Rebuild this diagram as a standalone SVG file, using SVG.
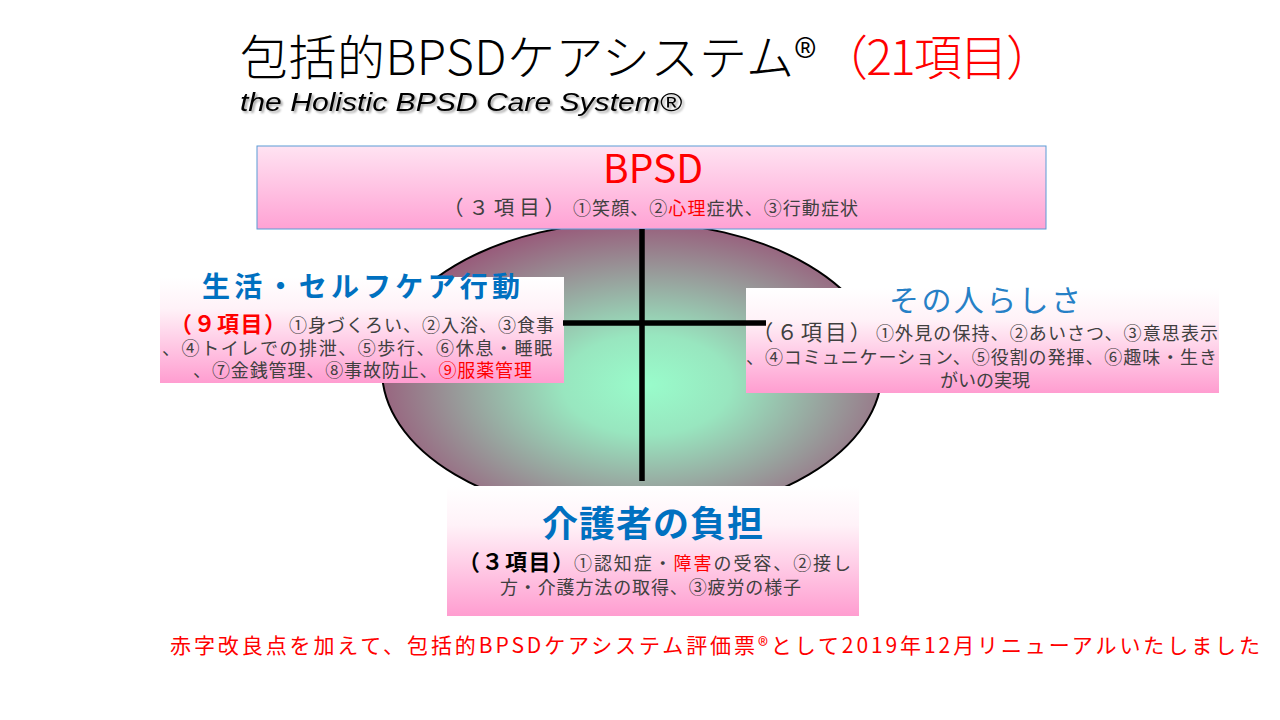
<svg xmlns="http://www.w3.org/2000/svg" width="1280" height="720" viewBox="0 0 1280 720">
<defs>
<style>
text{font-family:"Noto Sans CJK JP","Noto Sans",sans-serif;}
.body{font-size:18px;fill:#404040;}
.red{fill:#ff0000;}
.blueB{fill:#0070c0;font-weight:700;}
.line{stroke:#000;stroke-width:5.5;fill:none;}
</style>
<linearGradient id="gBpsd" x1="0" y1="0" x2="0" y2="1">
<stop offset="0" stop-color="#ffe3f2"/>
<stop offset="1" stop-color="#ffa2d4"/>
</linearGradient>
<linearGradient id="gBox" x1="0" y1="0" x2="0" y2="1">
<stop offset="0" stop-color="#ffffff"/>
<stop offset="0.3" stop-color="#fff2f8"/>
<stop offset="1" stop-color="#ff9dd0"/>
</linearGradient>
<radialGradient id="gEll" cx="0.53" cy="0.55" r="0.56">
<stop offset="0" stop-color="#99fccb"/>
<stop offset="0.3" stop-color="#98e6bf"/>
<stop offset="1" stop-color="#985a7a"/>
</radialGradient>
<filter id="shadow" x="-5%" y="-20%" width="110%" height="150%">
<feDropShadow dx="2" dy="2" stdDeviation="1" flood-color="#000" flood-opacity="0.35"/>
</filter>
</defs>
<rect width="1280" height="720" fill="#fff"/>

<g id="title">
<text x="240" y="75" font-size="48" font-weight="300" fill="#000" textLength="576">包括的BPSDケアシステム®</text>
<text x="820" y="75" font-size="48" font-weight="300" class="red" textLength="234">（21項目）</text>
<text x="240" y="111" font-size="25" fill="#000" style="font-family:'Liberation Sans',sans-serif;font-style:italic" textLength="442" lengthAdjust="spacingAndGlyphs" filter="url(#shadow)">the Holistic BPSD Care System®</text>
</g>

<g id="center-ellipse">
<ellipse cx="632" cy="370" rx="250" ry="148" fill="url(#gEll)" stroke="#000" stroke-width="2"/>
</g>

<g id="node-bpsd">
<rect x="257" y="146" width="789" height="83" fill="url(#gBpsd)" stroke="#5b9bd5" stroke-width="1"/>
<text x="653" y="183" font-size="39" class="red" text-anchor="middle">BPSD</text>
<text x="443" y="215" font-size="20.5" fill="#404040" textLength="122">（３項目）</text>
<text x="573" y="215" class="body" textLength="285">①笑顔、②<tspan class="red">心理</tspan>症状、③行動症状</text>
</g>

<g id="node-life">
<rect x="160" y="277" width="404" height="106" fill="url(#gBox)"/>
<text x="202" y="297" font-size="28" class="blueB" textLength="318">生活・セルフケア行動</text>
<text x="170" y="332" font-size="22" class="red" font-weight="700" textLength="116">（９項目）</text>
<text x="289" y="332" class="body" textLength="265">①身づくろい、②入浴、③食事</text>
<text x="162" y="355" class="body" textLength="390">、④トイレでの排泄、⑤歩行、⑥休息・睡眠</text>
<text x="193" y="377" class="body" textLength="339">、⑦金銭管理、⑧事故防止、<tspan class="red">⑨服薬管理</tspan></text>
</g>

<g id="node-person">
<rect x="746" y="288" width="473" height="105" fill="url(#gBox)"/>
<text x="889" y="311" font-size="30" fill="#2680c6" textLength="192">その人らしさ</text>
<text x="752" y="340" font-size="21.3" fill="#404040" textLength="119">（６項目）</text>
<text x="876" y="340" class="body" textLength="342">①外見の保持、②あいさつ、③意思表示</text>
<text x="746" y="364" class="body" textLength="471">、④コミュニケーション、⑤役割の発揮、⑥趣味・生き</text>
<text x="985" y="387" class="body" text-anchor="middle">がいの実現</text>
</g>

<g id="node-carer">
<rect x="447" y="486" width="412" height="130" fill="url(#gBox)"/>
<text x="542" y="537" font-size="36" class="blueB" textLength="221">介護者の負担</text>
<text x="458" y="570" font-size="22" fill="#000" font-weight="700" textLength="116">（３項目）</text>
<text x="574" y="570" class="body" textLength="277">①認知症・<tspan class="red">障害</tspan>の受容、②接し</text>
<text x="500" y="594" class="body" textLength="301">方・介護方法の取得、③疲労の様子</text>
</g>

<g id="connectors">
<line class="line" x1="642" y1="229" x2="642" y2="481"/>
<line class="line" x1="563" y1="323" x2="766" y2="323"/>
</g>

<g id="footer">
<text x="170" y="653" font-size="21" class="red" textLength="1090">赤字改良点を加えて、包括的BPSDケアシステム評価票®として2019年12月リニューアルいたしました</text>
</g>
</svg>
